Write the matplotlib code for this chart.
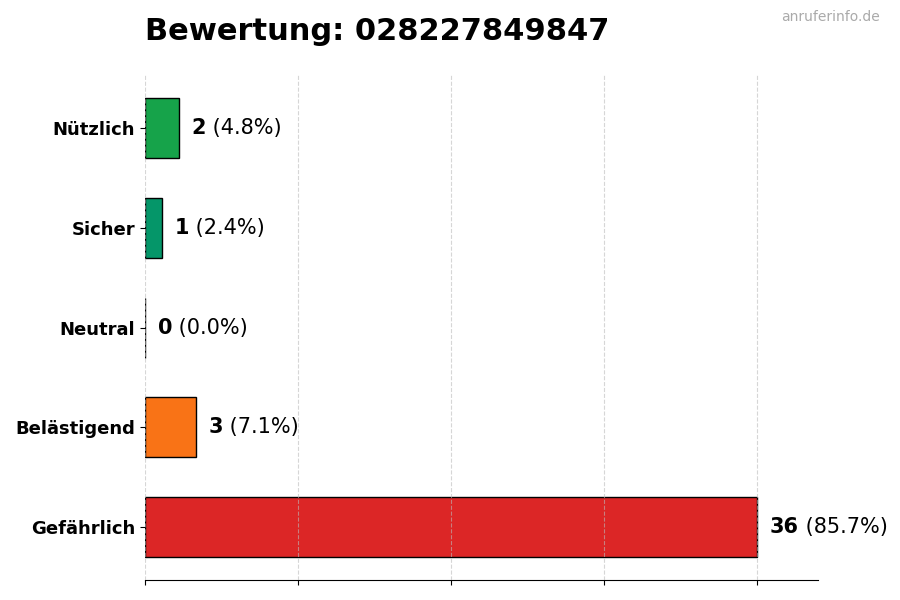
import matplotlib
matplotlib.use('Agg')
from matplotlib import pyplot as plt

# data, bottom to top
categories = ['Gefährlich', 'Belästigend', 'Neutral', 'Sicher', 'Nützlich']
counts = [36, 3, 0, 1, 2]
colors = ['#dc2626', '#f97316', '#6b7280', '#059669', '#16a34a']
title = 'Bewertung: 028227849847'
watermark = 'anruferinfo.de'

total = sum(counts)

fig = plt.figure(figsize=(9, 6), dpi=100)
ax = fig.add_axes([0.161, 0.033, 0.748, 0.842])

ypos = list(range(len(categories)))
ax.barh(ypos, counts, height=0.6, color=colors, edgecolor='black', linewidth=1, zorder=2)

ax.set_xlim(0, max(counts) * 1.1)
ax.set_xticks([0, 9, 18, 27, 36])
ax.set_xticklabels([])
ax.set_yticks(ypos)
ax.set_yticklabels(categories, fontsize=13, fontweight='bold')
ax.set_axisbelow(False)
ax.grid(axis='x', linestyle='--', color='#bbbbbb', alpha=0.6, linewidth=0.8)
for side in ['top', 'right', 'left']:
    ax.spines[side].set_visible(False)

for y, c in zip(ypos, counts):
    t = ax.text(c + 0.75, y, str(c), fontsize=15, fontweight='bold', va='center', ha='left')
    ax.annotate(' (%.1f%%)' % (100 * c / total), xy=(1, 0.5), xycoords=t,
                va='center', ha='left', fontsize=15)

fig.text(0.161, 0.948, title, fontsize=22, fontweight='bold', va='center', ha='left')
fig.text(0.978, 0.971, watermark, fontsize=10, color='#aaaaaa', va='center', ha='right')

fig.savefig('out.png', dpi=100)
